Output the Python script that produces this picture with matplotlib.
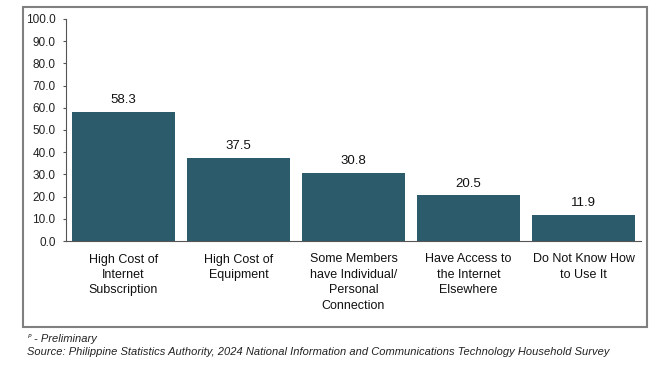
import matplotlib
matplotlib.use("Agg")
import matplotlib.pyplot as plt
from matplotlib.patches import Rectangle

plt.rcParams['font.family'] = ['Liberation Sans', 'DejaVu Sans']

categories = ["High Cost of\nInternet\nSubscription", "High Cost of\nEquipment",
              "Some Members\nhave Individual/\nPersonal\nConnection",
              "Have Access to\nthe Internet\nElsewhere", "Do Not Know How\nto Use It"]
values = [58.3, 37.5, 30.8, 20.5, 11.9]
yticks = [0, 10, 20, 30, 40, 50, 60, 70, 80, 90, 100]

fig = plt.figure(figsize=(6.62, 3.68), dpi=100)
# outer frame
fig.patches.append(Rectangle((23/662, 1-327/368), (647-23)/662, (327-7)/368,
                             transform=fig.transFigure, fill=False,
                             edgecolor='#808080', linewidth=1.5))
ax = fig.add_axes([66/662, 1-241/368, (641-66)/662, (241-19)/368])
x = list(range(len(values)))
ax.bar(x, values, width=0.9, color='#2C5C6B')
for xi, v in zip(x, values):
    ax.text(xi, v + 2.5, f"{v:.1f}", ha='center', va='bottom', fontsize=9.5, color='#111111')
ax.set_xlim(-0.5, len(values) - 0.5)
ax.set_ylim(0, 100)
ax.set_yticks(yticks)
ax.set_yticklabels([f"{t:.1f}" for t in yticks], fontsize=8.5, color='#222222')
ax.set_xticks(x)
ax.set_xticklabels(categories, fontsize=9, color='#111111', linespacing=1.38)
ax.tick_params(axis='x', length=0, pad=9)
ax.tick_params(axis='y', length=2.5, width=0.8, color='#555555', pad=5)
for s in ['top', 'right']:
    ax.spines[s].set_visible(False)
for s in ['left', 'bottom']:
    ax.spines[s].set_color('#555555')
    ax.spines[s].set_linewidth(0.8)

fig.text(27/662, 1-339/368, "$^{P}$", fontsize=6, style='italic', va='center', color='#222222')
fig.text(34/662, 1-339/368, "- Preliminary", fontsize=8, style='italic', va='center', color='#222222')
fig.text(27/662, 1-352/368,
         "Source: Philippine Statistics Authority, 2024 National Information and Communications Technology Household Survey",
         fontsize=8, style='italic', va='center', color='#222222')
fig.savefig("out.png", dpi=100)
